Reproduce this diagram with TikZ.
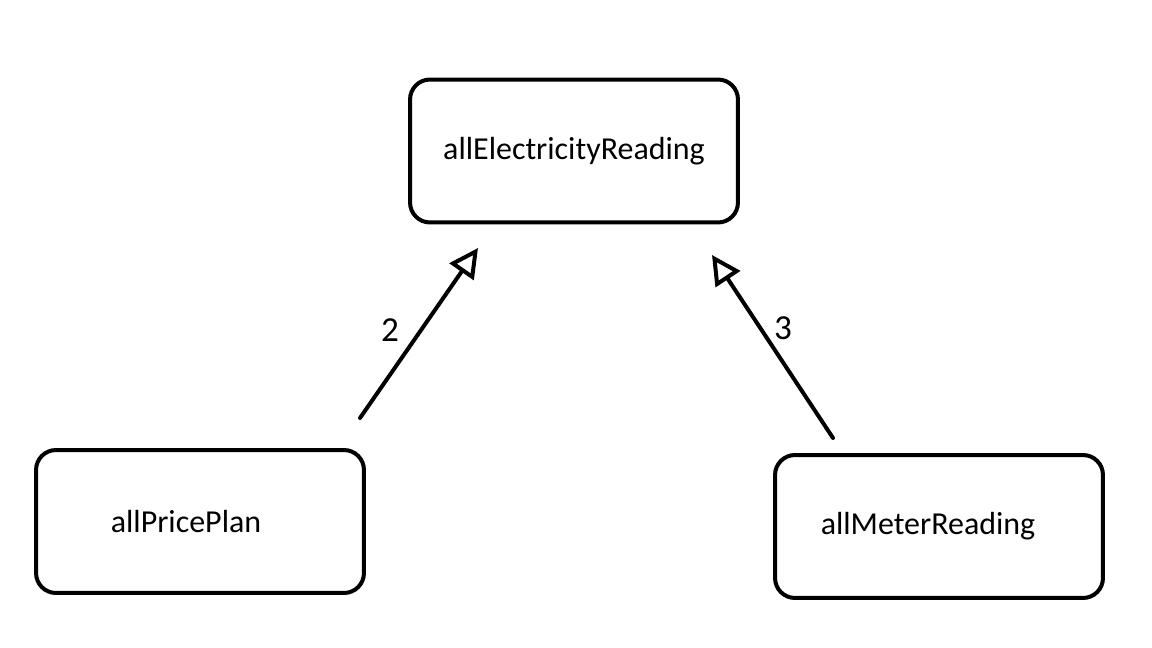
\documentclass[tikz,border=0pt]{standalone}
\usepackage{fontspec}
\setmainfont{Carlito}
\usetikzlibrary{arrows.meta, positioning}

\begin{document}
\begin{tikzpicture}[
    x=0.02cm, y=-0.02cm,
    entity/.style={rectangle, draw=black, line width=0.08cm, rounded corners=0.4cm, fill=white, minimum width=6.56cm, minimum height=2.86cm, align=center, font=\fontsize{18.2}{21}\selectfont},
    arrow/.style={-{Triangle[open, length=0.58cm, width=0.58cm]}, line width=0.08cm, line cap=round, color=black},
    num/.style={font=\fontsize{20}{22}\selectfont}
]
    \useasboundingbox (0,0) rectangle (1152,648);

    \node[entity] (reading) at (574,151) {allElectricityReading};
    \node[entity] (priceplan) at (200,521.5) {\hspace*{-0.56cm}allPricePlan};
    \node[entity] (meter) at (939,526.5) {\hspace*{-0.44cm}allMeterReading};

    % free arrow ends
    \coordinate (p-start) at (360,418);
    \coordinate (p-end) at (478,248);
    \coordinate (m-start) at (833,438);
    \coordinate (m-end) at (712,255);

    \draw[arrow] (p-start) -- (p-end);
    \draw[arrow] (m-start) -- (m-end);

    \node[num] (two) at (390,330) {2};
    \node[num] (three) at (783,328) {3};
\end{tikzpicture}
\end{document}
